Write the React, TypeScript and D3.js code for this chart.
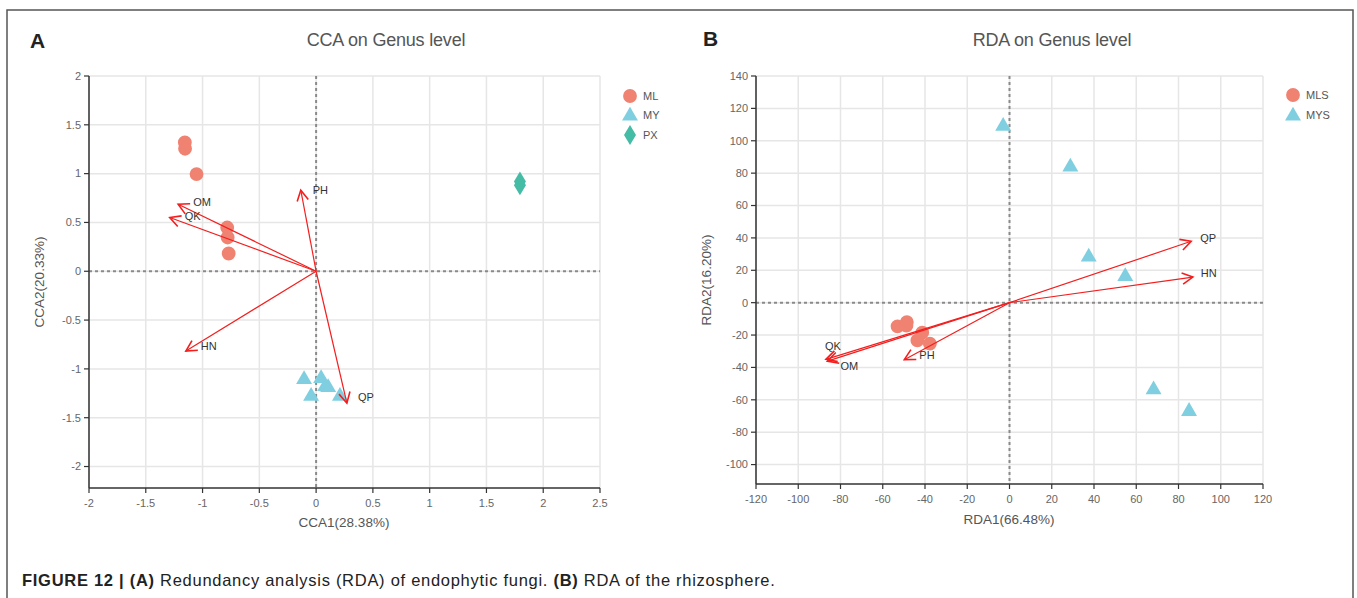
import React from "react";
import * as d3 from "d3";

// ---------- Data ----------
// Panel A (CCA)
const mlX = [-1.156, -1.154, -1.053, -0.783, -0.779, -0.77];
const mlY = [1.32, 1.255, 0.995, 0.448, 0.346, 0.182];
const myX = [-0.106, 0.044, 0.08, 0.106, -0.044, 0.21];
const myY = [-1.108, -1.097, -1.18, -1.19, -1.28, -1.28];
const pxX = [1.795, 1.795];
const pxY = [0.92, 0.88];
const envA = ["OM", "QK", "PH", "HN", "QP"];
const envAX = [-1.215, -1.289, -0.135, -1.147, 0.271];
const envAY = [0.687, 0.551, 0.831, -0.817, -1.351];
const ticksAX = [-2, -1.5, -1, -0.5, 0, 0.5, 1, 1.5, 2, 2.5];
const ticksAY = [2, 1.5, 1, 0.5, 0, -0.5, -1, -1.5, -2];

// Panel B (RDA)
const mlsX = [-53, -48.6, -48.8, -41.3, -43.6, -37.7];
const mlsY = [-14.6, -12, -14.2, -18.5, -23.3, -25.3];
const mysX = [-3, 28.8, 37.5, 54.8, 68.2, 85];
const mysY = [109, 83.8, 28.2, 16.2, -53.7, -67.1];
const envB = ["QP", "HN", "QK", "OM", "PH"];
const envBX = [86, 86.8, -86.9, -86.2, -49.8];
const envBY = [37.9, 15.8, -35, -36.1, -35.2];
const ticksBX = [-120, -100, -80, -60, -40, -20, 0, 20, 40, 60, 80, 100, 120];
const ticksBY = [140, 120, 100, 80, 60, 40, 20, 0, -20, -40, -60, -80, -100];

// ---------- Styles ----------
const FONT = "'Liberation Sans', Arial, Helvetica, sans-serif";
const C_ML = "#F08272";
const C_MY = "#80CFE0";
const C_PX = "#45BCA5";
const C_ARROW = "#F41E1E";
const C_GRID = "#E6E6E6";
const C_ZERO = "#8A8A8A";
const C_TICK = "#666";

const labelOffA: Record<string, [number, number]> = {
  OM: [15, -2], QK: [15, -1], PH: [12, 0], HN: [15, -5], QP: [11, -6],
};
const labelOffB: Record<string, [number, number]> = {
  QP: [9, -3], HN: [8, -4], QK: [-1, -13], OM: [13, 5], PH: [15, -5],
};

const xA = d3.scaleLinear().domain([-2, 2.5]).range([89, 600]);
const yA = d3.scaleLinear().domain([-2.22, 2]).range([488, 76]);
const xB = d3.scaleLinear().domain([-120, 120]).range([756, 1263]);
const yB = d3.scaleLinear().domain([-112, 140]).range([484, 76]);

function Arrow({ x0, y0, x1, y1 }: { x0: number; y0: number; x1: number; y1: number }) {
  const ang = Math.atan2(y1 - y0, x1 - x0);
  const L = 12;
  const a = (28 * Math.PI) / 180;
  const hx1 = x1 - L * Math.cos(ang - a);
  const hy1 = y1 - L * Math.sin(ang - a);
  const hx2 = x1 - L * Math.cos(ang + a);
  const hy2 = y1 - L * Math.sin(ang + a);
  return (
    <g stroke={C_ARROW} fill="none" strokeWidth={1.2}>
      <line x1={x0} y1={y0} x2={x1} y2={y1} />
      <path d={`M${hx1},${hy1}L${x1},${y1}L${hx2},${hy2}`} strokeWidth={1.6} />
    </g>
  );
}

const circlePath = d3.symbol(d3.symbolCircle, 150)()!;
const triPath = d3.symbol(d3.symbolTriangle, 110)()!;
const diamondPath = "M0,-10L6,0L0,10L-6,0Z";

type PanelProps = {
  x: d3.ScaleLinear<number, number>;
  y: d3.ScaleLinear<number, number>;
  tx: number[];
  ty: number[];
  fmt: (v: number) => string;
};

function Frame({ x, y, tx, ty, fmt }: PanelProps) {
  const [x0, x1] = x.range();
  const [y0, y1] = y.range(); // y0 bottom, y1 top
  return (
    <g>
      {tx.map((t) => (
        <line key={"gx" + t} x1={x(t)} x2={x(t)} y1={y1} y2={y0} stroke={C_GRID} strokeWidth={1.5} />
      ))}
      {ty.map((t) => (
        <line key={"gy" + t} x1={x0} x2={x1} y1={y(t)} y2={y(t)} stroke={C_GRID} strokeWidth={1.5} />
      ))}
      <line x1={x(0)} x2={x(0)} y1={y1} y2={y0} stroke={C_ZERO} strokeWidth={2} strokeDasharray="3,3" />
      <line x1={x0} x2={x1} y1={y(0)} y2={y(0)} stroke={C_ZERO} strokeWidth={2} strokeDasharray="3,3" />
      {/* axes */}
      <line x1={x0} x2={x0} y1={y1} y2={y0} stroke="#333" strokeWidth={1.5} />
      <line x1={x0} x2={x1} y1={y0} y2={y0} stroke="#333" strokeWidth={1.5} />
      {ty.map((t) => (
        <g key={"ty" + t}>
          <line x1={x0 - 5} x2={x0} y1={y(t)} y2={y(t)} stroke="#333" strokeWidth={1.2} />
          <text x={x0 - 8} y={y(t)} dy="0.35em" textAnchor="end" fontSize={11} fill={C_TICK} fontFamily={FONT}>
            {fmt(t)}
          </text>
        </g>
      ))}
      {tx.map((t) => (
        <g key={"tx" + t}>
          <line x1={x(t)} x2={x(t)} y1={y0} y2={y0 + 5} stroke="#333" strokeWidth={1.2} />
          <text x={x(t)} y={y0 + 19} textAnchor="middle" fontSize={11} fill={C_TICK} fontFamily={FONT}>
            {fmt(t)}
          </text>
        </g>
      ))}
    </g>
  );
}

export default function App() {
  const fmtA = (v: number) => String(v);
  const fmtB = (v: number) => String(v);
  return (
    <svg width={1357} height={598} style={{ position: "absolute", left: 0, top: 0 }} fontFamily={FONT}>
      <rect x={0} y={0} width={1357} height={598} fill="#fff" />
      <rect x={7} y={10} width={1346} height={600} fill="none" stroke="#555" strokeWidth={1.5} />

      {/* Panel A */}
      <text x={30} y={48} fontSize={21} fontWeight="bold" fill="#222">A</text>
      <text x={386} y={46} textAnchor="middle" fontSize={18} fill="#555" letterSpacing={-0.2}>CCA on Genus level</text>
      <Frame x={xA} y={yA} tx={ticksAX} ty={ticksAY} fmt={fmtA} />
      <text x={344} y={527} textAnchor="middle" fontSize={13.5} fill="#555">CCA1(28.38%)</text>
      <text transform={`translate(44,282) rotate(-90)`} textAnchor="middle" fontSize={13.5} fill="#555">CCA2(20.33%)</text>

      {mlX.map((v, i) => (
        <path key={"ml" + i} d={circlePath} transform={`translate(${xA(v)},${yA(mlY[i])})`} fill={C_ML} />
      ))}
      {myX.map((v, i) => (
        <path key={"my" + i} d={triPath} transform={`translate(${xA(v)},${yA(myY[i])})`} fill={C_MY} />
      ))}
      {pxX.map((v, i) => (
        <path key={"px" + i} d={diamondPath} transform={`translate(${xA(v)},${yA(pxY[i])})`} fill={C_PX} />
      ))}
      {envA.map((n, i) => (
        <g key={"ea" + n}>
          <Arrow x0={xA(0)} y0={yA(0)} x1={xA(envAX[i])} y1={yA(envAY[i])} />
          <text x={xA(envAX[i]) + labelOffA[n][0]} y={yA(envAY[i]) + labelOffA[n][1]} dy="0.35em" fontSize={11} fill="#333">
            {n}
          </text>
        </g>
      ))}

      {/* Legend A */}
      <path d={circlePath} transform="translate(630,96)" fill={C_ML} />
      <text x={643} y={96} dy="0.35em" fontSize={11} fill="#555">ML</text>
      <path d={triPath} transform="translate(630,116)" fill={C_MY} />
      <text x={643} y={115} dy="0.35em" fontSize={11} fill="#555">MY</text>
      <path d={diamondPath} transform="translate(630,135)" fill={C_PX} />
      <text x={643} y={135} dy="0.35em" fontSize={11} fill="#555">PX</text>

      {/* Panel B */}
      <text x={703} y={46} fontSize={21} fontWeight="bold" fill="#222">B</text>
      <text x={1052} y={46} textAnchor="middle" fontSize={18} fill="#555" letterSpacing={-0.2}>RDA on Genus level</text>
      <Frame x={xB} y={yB} tx={ticksBX} ty={ticksBY} fmt={fmtB} />
      <text x={1009} y={524} textAnchor="middle" fontSize={13.5} fill="#555">RDA1(66.48%)</text>
      <text transform={`translate(711,280) rotate(-90)`} textAnchor="middle" fontSize={13.5} fill="#555">RDA2(16.20%)</text>

      {mlsX.map((v, i) => (
        <path key={"mls" + i} d={circlePath} transform={`translate(${xB(v)},${yB(mlsY[i])})`} fill={C_ML} />
      ))}
      {mysX.map((v, i) => (
        <path key={"mys" + i} d={triPath} transform={`translate(${xB(v)},${yB(mysY[i])})`} fill={C_MY} />
      ))}
      {envB.map((n, i) => (
        <g key={"eb" + n}>
          <Arrow x0={xB(0)} y0={yB(0)} x1={xB(envBX[i])} y1={yB(envBY[i])} />
          <text x={xB(envBX[i]) + labelOffB[n][0]} y={yB(envBY[i]) + labelOffB[n][1]} dy="0.35em" fontSize={11} fill="#333">
            {n}
          </text>
        </g>
      ))}

      {/* Legend B */}
      <path d={circlePath} transform="translate(1293,95)" fill={C_ML} />
      <text x={1306} y={95} dy="0.35em" fontSize={11} fill="#555">MLS</text>
      <path d={triPath} transform="translate(1293,116)" fill={C_MY} />
      <text x={1306} y={115} dy="0.35em" fontSize={11} fill="#555">MYS</text>

      {/* Caption */}
      <text x={22} y={586} fontSize={16.5} fill="#222" letterSpacing={0.72}>
        <tspan fontWeight="bold">FIGURE 12 | (A)</tspan>
        <tspan> Redundancy analysis (RDA) of endophytic fungi. </tspan>
        <tspan fontWeight="bold">(B)</tspan>
        <tspan> RDA of the rhizosphere.</tspan>
      </text>
    </svg>
  );
}
